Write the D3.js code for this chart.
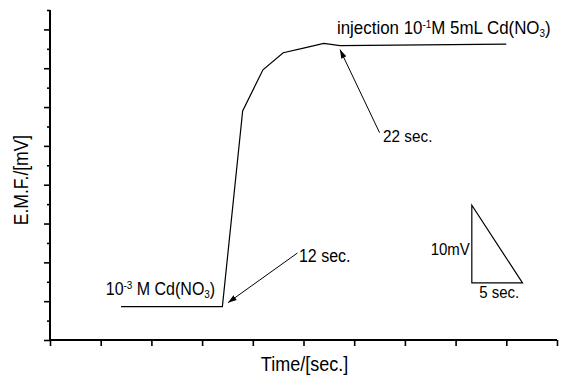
<!DOCTYPE html>
<html>
<head>
<meta charset="utf-8">
<script src="https://cdn.jsdelivr.net/npm/d3@7"></script>
<style>
  body { margin: 0; background: #fff; }
  text { font-family: "Liberation Sans", Arial, sans-serif; fill: #000; }
</style>
</head>
<body>
<div id="chart"></div>
<script>
// data (time in sec, EMF in mV)
var times = [7, 17, 19, 21, 23, 25, 27, 28.6, 45];
var emf = [4.3, 4.3, 29.5, 34.8, 37.0, 37.6, 38.2, 37.9, 38.1];

// arrows: [tailT, tailV, tipT, tipV]
var arrow22 = [32.5, 26.7, 28.6, 37.4];
var arrow12 = [24.4, 11.2, 17.55, 4.8];

// scale bar triangle: 5 sec by 10 mV
var barT = [41.6, 46.6];
var barV = [7.35, 17.35];

var svgWidth = 561;
var svgHeight = 377;
var margin = {top: 10, right: 4, bottom: 37, left: 50};
var chartWidth = svgWidth - margin.left - margin.right;
var chartHeight = svgHeight - margin.top - margin.bottom;
var squeeze = 0.9; // the original font is a bit narrower than Liberation Sans

var svg = d3.select("#chart")
    .append("svg")
    .attr("width", svgWidth)
    .attr("height", svgHeight);

var chartGroup = svg.append("g")
    .attr("transform", `translate(${margin.left}, ${margin.top})`);

var x = d3.scaleLinear().domain([0, 50]).range([0, 507]);
var y = d3.scaleLinear().domain([0, 42.5]).range([chartHeight, 0]);

// arrow marker
svg.append("defs").append("marker")
    .attr("id", "head")
    .attr("viewBox", "0 -4 10 8")
    .attr("refX", 10)
    .attr("refY", 0)
    .attr("markerUnits", "userSpaceOnUse")
    .attr("markerWidth", 9)
    .attr("markerHeight", 7)
    .attr("orient", "auto")
    .append("path")
    .attr("d", "M0,-3.2L10,0L0,3.2Z")
    .attr("fill", "#000");

// axes
var bottomAxis = d3.axisBottom(x).tickValues(d3.range(0, 51, 5)).tickSize(6).tickFormat("");
var leftAxis = d3.axisLeft(y).tickValues(d3.range(0, 42.6, 2.5)).tickFormat("")
    .tickSize(6);

var xg = chartGroup.append("g")
    .attr("transform", `translate(0, ${chartHeight})`)
    .call(bottomAxis);
var yg = chartGroup.append("g").call(leftAxis);

yg.selectAll(".tick line")
    .attr("x2", d => (Math.round(d / 2.5) % 2 === 0) ? -6 : -3);

[xg, yg].forEach(function(g) {
    g.select(".domain").attr("stroke-width", 2).attr("stroke", "#000");
    g.selectAll(".tick line").attr("stroke-width", 1.6).attr("stroke", "#000");
});
xg.select(".domain").attr("d", `M-1,0H${x(50)}`);
yg.select(".domain").attr("d", `M0,${chartHeight + 1}V0`);

// curve
var line = d3.line()
    .x((d, i) => x(times[i]))
    .y(d => y(d));

chartGroup.append("path")
    .datum(emf)
    .attr("d", line)
    .attr("fill", "none")
    .attr("stroke", "#000")
    .attr("stroke-width", 1.2);

// arrows
[arrow22, arrow12].forEach(function(a) {
    chartGroup.append("line")
        .attr("x1", x(a[0])).attr("y1", y(a[1]))
        .attr("x2", x(a[2])).attr("y2", y(a[3]))
        .attr("stroke", "#000")
        .attr("stroke-width", 1)
        .attr("marker-end", "url(#head)");
});

// scale triangle
chartGroup.append("path")
    .attr("d", `M${x(barT[0])},${y(barV[1])}L${x(barT[0])},${y(barV[0])}L${x(barT[1])},${y(barV[0])}Z`)
    .attr("fill", "none")
    .attr("stroke", "#000")
    .attr("stroke-width", 1.2);

// labels
function label(t, v, parts, size, anchor) {
    var txt = chartGroup.append("text")
        .attr("transform", `translate(${x(t)}, ${y(v)}) scale(${squeeze}, 1)`)
        .attr("font-size", size / squeeze)
        .attr("text-anchor", anchor || "start");
    parts.forEach(function(p) {
        var ts = txt.append("tspan").text(p[0]);
        if (p[1] === "sup") ts.attr("font-size", 11).attr("dy", -6);
        if (p[1] === "sub") ts.attr("font-size", 11).attr("dy", 3);
        if (p[1] === "back") ts.attr("dy", p[2]);
    });
    return txt;
}

label(28.3, 39.35, [["injection 10"], ["-1", "sup"], ["M 5mL Cd(NO", "back", 6], ["3", "sub"], [")", "back", -3]], 16.9);
label(32.85, 25.5, [["22 sec."]], 15.3);
label(24.55, 10.1, [["12 sec."]], 16);
label(5.5, 5.8, [["10"], ["-3", "sup"], [" M Cd(NO", "back", 6], ["3", "sub"], [")", "back", -3]], 16);
label(41.4, 11, [["10mV"]], 15, "end");
label(44.3, 5.4, [["5 sec."]], 15, "middle");

// axis titles
chartGroup.append("text")
    .attr("transform", `translate(${chartWidth / 2 + 1}, ${chartHeight + 31}) scale(${squeeze}, 1)`)
    .attr("text-anchor", "middle")
    .attr("font-size", 18 / squeeze)
    .text("Time/[sec.]");

chartGroup.append("text")
    .attr("transform", `translate(-22, 170) rotate(-90) scale(${squeeze}, 1)`)
    .attr("text-anchor", "middle")
    .attr("font-size", 17.5 / squeeze)
    .text("E.M.F./[mV]");
</script>
</body>
</html>
